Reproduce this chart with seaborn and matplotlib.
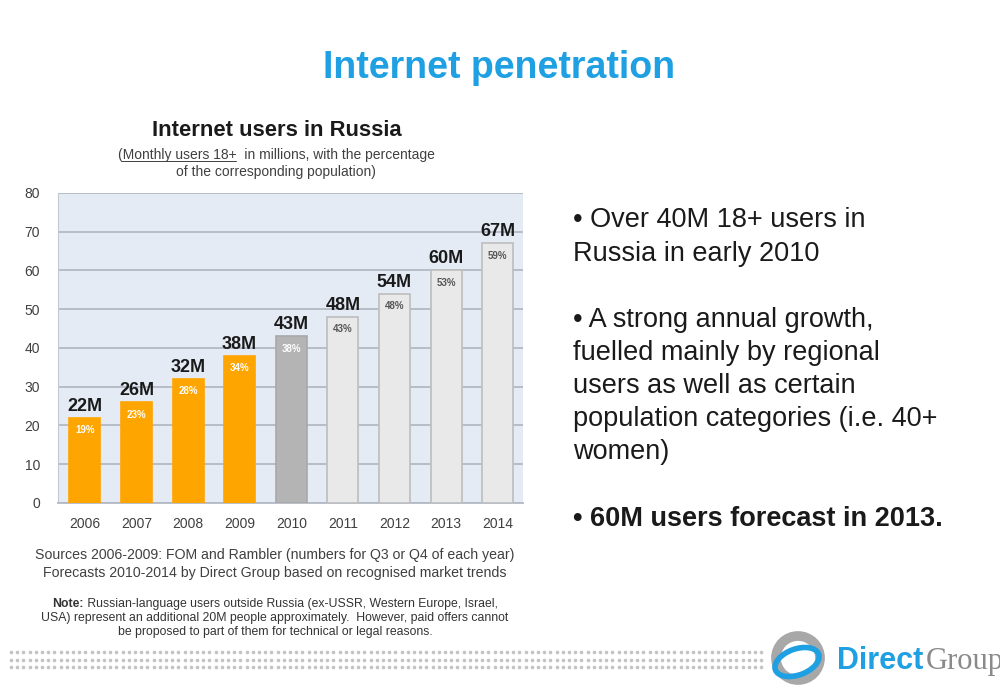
import numpy as np
import pandas as pd
import matplotlib
matplotlib.use("Agg")
import matplotlib.pyplot as plt
import matplotlib.patches as mpatches
import seaborn as sns

# data
years = ['2006', '2007', '2008', '2009', '2010', '2011', '2012', '2013', '2014']
users = [22, 26, 32, 38, 43, 48, 54, 60, 67]
share = ['19%', '23%', '28%', '34%', '38%', '43%', '48%', '53%', '59%']
kind = ['actual', 'actual', 'actual', 'actual', 'current',
        'forecast', 'forecast', 'forecast', 'forecast']

fill = {'actual': '#FFA500', 'current': '#B4B4B4', 'forecast': '#E9E9E9'}
edge = {'actual': '#FFA500', 'current': '#A8A8A8', 'forecast': '#BDBDBD'}
pct_col = {'actual': 'white', 'current': 'white', 'forecast': '#555555'}

sns.set_style("white")
plt.rcParams['font.family'] = ['Liberation Sans', 'DejaVu Sans']

df = pd.DataFrame({'year': years, 'users': users, 'share': share, 'kind': kind})

fig = plt.figure(figsize=(10, 6.89), dpi=100)
ax = fig.add_axes([0.058, 0.270, 0.465, 0.450])
ax.set_facecolor('#E4EBF5')

sns.barplot(data=df, x='year', y='users', hue='year',
            palette=[fill[k] for k in kind], legend=False, saturation=1,
            width=0.6, ax=ax, zorder=3)
for bar, k in zip(ax.patches, kind):
    bar.set_edgecolor(edge[k])
    bar.set_linewidth(1.2)

for i, (v, s, k) in enumerate(zip(users, share, kind)):
    ax.text(i, v + 0.8, f'{v}M', ha='center', va='bottom',
            fontsize=13, fontweight='bold', color='#1a1a1a')
    ax.text(i, v - 3.2, s, ha='center', va='center', fontsize=7,
            fontweight='bold', color=pct_col[k])

ax.set_xlim(-0.52, 8.49)
ax.set_ylim(0, 80)
ax.set_yticks(range(0, 81, 10))
ax.yaxis.grid(True, color='#B4BAC4', lw=1.3, zorder=0)
ax.set_axisbelow(True)
ax.set_xlabel('')
ax.set_ylabel('')
for sp in ['top', 'right']:
    ax.spines[sp].set_visible(False)
ax.spines['left'].set_color('#C4C9D0')
ax.spines['bottom'].set_color('#B4BAC4')
ax.spines['bottom'].set_linewidth(1.3)
ax.tick_params(axis='y', length=5, color='#B4BAC4', width=1.3,
               labelsize=10, labelcolor='#404040', pad=8)
ax.tick_params(axis='x', length=0, labelsize=10, labelcolor='#404040', pad=10)

# titles
fig.text(0.499, 0.901, 'Internet penetration', ha='center', va='center',
         fontsize=27, fontweight='bold', color='#1EA0E2')
fig.text(0.277, 0.810, 'Internet users in Russia', ha='center', va='center',
         fontsize=15.8, fontweight='bold', color='#1a1a1a')
line1 = '(Monthly users 18+  in millions, with the percentage'
t1 = fig.text(0.276, 0.775, line1, ha='center', va='center',
              fontsize=10, color='#404040')
fig.text(0.276, 0.751, 'of the corresponding population)', ha='center',
         va='center', fontsize=10, color='#404040')

# sources
fig.text(0.275, 0.194, 'Sources 2006-2009: FOM and Rambler (numbers for Q3 or Q4 of each year)',
         ha='center', va='center', fontsize=10.2, color='#404040')
fig.text(0.275, 0.168, 'Forecasts 2010-2014 by Direct Group based on recognised market trends',
         ha='center', va='center', fontsize=10.2, color='#404040')
note_rest = ' Russian-language users outside Russia (ex-USSR, Western Europe, Israel,'
fig.text(0.275, 0.103, 'USA) represent an additional 20M people approximately.  However, paid offers cannot',
         ha='center', va='center', fontsize=8.8, color='#333333')
fig.text(0.275, 0.083, 'be proposed to part of them for technical or legal reasons.',
         ha='center', va='center', fontsize=8.8, color='#333333')

# bullet text
bullets = [
    (0.699, '• Over 40M 18+ users in\nRussia in early 2010', 'normal'),
    (0.555, '• A strong annual growth,\nfuelled mainly by regional\nusers as well as certain\n'
            'population categories (i.e. 40+\nwomen)', 'normal'),
    (0.265, '• 60M users forecast in 2013.', 'bold'),
]
for y, txt, w in bullets:
    fig.text(0.573, y, txt, ha='left', va='top', fontsize=19.5,
             fontweight=w, color='#1a1a1a', linespacing=1.36)

# decoration: dotted band and logo
deco = fig.add_axes([0, 0, 1, 1], zorder=-1)
deco.set_xlim(0, 1000)
deco.set_ylim(689, 0)
deco.axis('off')
gx, gy = np.meshgrid(np.arange(11, 762, 6.2), [652, 659.5, 667])
deco.scatter(gx.ravel(), gy.ravel(), s=7, color='#C4C4C4', marker='o', lw=0)
logo = fig.add_axes([0, 0, 1, 1], zorder=2)
logo.set_xlim(0, 1000)
logo.set_ylim(689, 0)
logo.axis('off')
logo.add_patch(mpatches.Circle((798, 658), 28, color='white', zorder=1))
logo.add_patch(mpatches.Circle((798, 658), 22, fill=False, lw=7,
                               edgecolor='#A8A8A8', zorder=2))
logo.add_patch(mpatches.Ellipse((797, 662), 46, 26, angle=-20, fill=False,
                                lw=4, edgecolor='#1EA0E2', zorder=3))
logo.text(837, 661, 'Direct', ha='left', va='center', fontsize=22,
          fontweight='bold', color='#1EA0E2', zorder=4)
logo.text(926, 661, 'Group', ha='left', va='center', fontsize=22,
          family='Liberation Serif', color='#8A8A8A', zorder=4)

# underline "Monthly users 18+" and bold "Note:" prefix
fig.canvas.draw()
r = fig.canvas.get_renderer()

def width(s, **kw):
    t = fig.text(0, 0, s, **kw)
    w_ = t.get_window_extent(r).width
    t.remove()
    return w_

bb = t1.get_window_extent(r)
x0 = bb.x0 + width('(', fontsize=10)
x1 = bb.x0 + width('(Monthly users 18+', fontsize=10)
yu = bb.y0 + 1.5
fig.add_artist(plt.Line2D([x0 / 1000, x1 / 1000], [yu / 689, yu / 689],
                          color='#404040', lw=0.7))

wb = width('Note:', fontsize=8.8, fontweight='bold')
wr = width(note_rest, fontsize=8.8)
start = 275 - (wb + wr) / 2
fig.text(start / 1000, 0.123, 'Note:', ha='left', va='center', fontsize=8.8,
         fontweight='bold', color='#333333')
fig.text((start + wb) / 1000, 0.123, note_rest, ha='left', va='center',
         fontsize=8.8, color='#333333')

fig.savefig('out.png', dpi=100)
